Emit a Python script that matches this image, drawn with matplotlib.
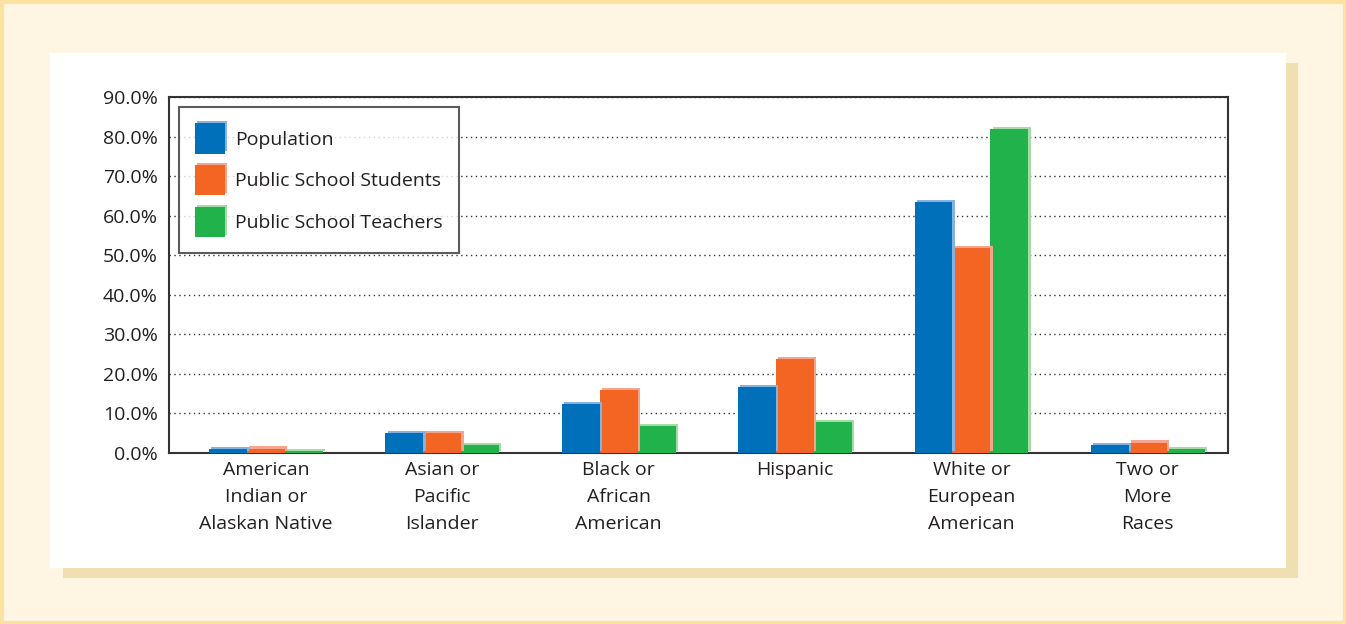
import matplotlib
matplotlib.use('Agg')
import matplotlib.pyplot as plt
import matplotlib.patheffects as pe
from matplotlib.patches import Rectangle
import numpy as np

categories = ['American\nIndian or\nAlaskan Native', 'Asian or\nPacific\nIslander',
              'Black or\nAfrican\nAmerican', 'Hispanic', 'White or\nEuropean\nAmerican',
              'Two or\nMore\nRaces']
series = ['Population', 'Public School Students', 'Public School Teachers']
population = [0.9, 5.0, 12.4, 16.6, 63.4, 1.9]
students = [1.1, 5.1, 15.9, 23.7, 51.7, 2.6]
teachers = [0.5, 1.9, 6.8, 7.8, 81.9, 1.0]
yticks = [0, 10, 20, 30, 40, 50, 60, 70, 80, 90]

colors = ['#0070BA', '#F26522', '#22B24C']
light = ['#86B2E2', '#F6A48E', '#A6DBA8']
text_col = '#231F20'

plt.rcParams['font.family'] = ['Open Sans', 'DejaVu Sans']

W, H = 1346, 624
fig = plt.figure(figsize=(W / 100, H / 100), dpi=100)
fig.patch.set_facecolor('#FEF6E3')


def px_rect(x0, y0, x1, y1, **kw):
    # rectangle in pixel coords, y measured from top
    fig.add_artist(Rectangle((x0 / W, 1 - y1 / H), (x1 - x0) / W, (y1 - y0) / H,
                             transform=fig.transFigure, zorder=-10, **kw))


px_rect(1.5, 1.5, W - 1.5, H - 1.5, facecolor='none', edgecolor='#FBE2A0', linewidth=3)
px_rect(63, 63, 1298, 578, facecolor='#F0DFB1', edgecolor='none')
px_rect(50, 53, 1286, 568, facecolor='white', edgecolor='none')

ax = fig.add_axes([169 / W, 1 - 453 / H, (1228 - 169) / W, (453 - 97) / H])
ax.set_facecolor('none')

x = np.arange(len(categories))
width = 0.215
data = [population, students, teachers]
for i, (vals, name) in enumerate(zip(data, series)):
    bars = ax.bar(x + (i - 1) * width, vals, width, color=colors[i], label=name,
                  zorder=3 - i * 0.1)
    for b in bars:
        b.set_path_effects([pe.SimplePatchShadow(offset=(1.6, 1.6), shadow_rgbFace=light[i], alpha=1),
                            pe.Normal()])

ax.set_ylim(0, 90)
ax.set_xlim(-0.55, len(categories) - 0.545)
ax.set_yticks(yticks)
ax.set_yticklabels([f'{v:.1f}%' for v in yticks])
ax.set_xticks(x)
ax.set_xticklabels(categories, linespacing=1.62)
ax.tick_params(axis='both', length=0, labelsize=14, colors=text_col)
ax.tick_params(axis='y', pad=8)
ax.tick_params(axis='x', pad=6)
ax.grid(axis='y', linestyle=(0, (1, 2.5)), color='#333333', linewidth=1, zorder=1)
ax.set_axisbelow(True)
for s in ax.spines.values():
    s.set_color('#333333')
    s.set_linewidth(1.5)

leg = ax.legend(loc='upper left', bbox_to_anchor=(0.009, 0.972), fontsize=14,
                frameon=True, fancybox=False, edgecolor='#333333',
                handlelength=1.55, handleheight=2.0, labelspacing=0.6,
                handletextpad=0.5, borderpad=0.85, borderaxespad=0)
leg.get_frame().set_linewidth(1.5)
for t in leg.get_texts():
    t.set_color(text_col)

fig.savefig('out.png', dpi=100, facecolor=fig.get_facecolor())
